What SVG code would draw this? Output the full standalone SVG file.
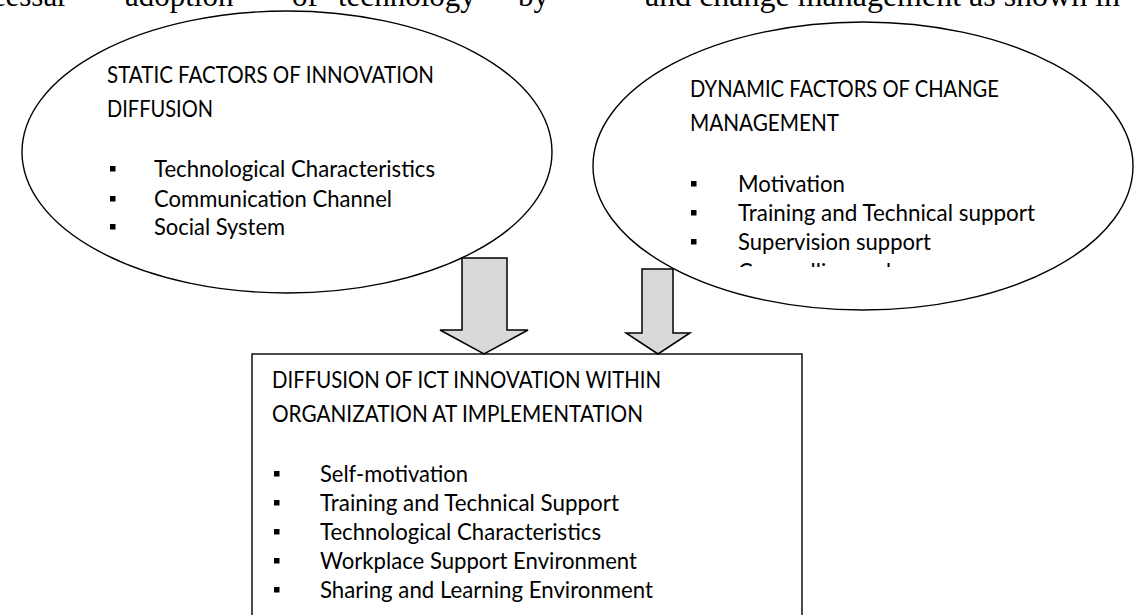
<svg xmlns="http://www.w3.org/2000/svg" width="1135" height="615" viewBox="0 0 1135 615">
  <defs>
    <style>
      .body { font-family: "Times New Roman", "Liberation Serif", serif; font-size: 31px; fill: #000; }
      .lbl { font-family: Lato, "Open Sans", sans-serif; font-size: 22.2px; fill: #000; }
      .shape { fill: #fff; stroke: #000; stroke-width: 1.4; }
      .arrow { fill: #d9d9d9; stroke: #000; stroke-width: 1.5; stroke-linejoin: miter; }
      .bullet { fill: #000; }
    </style>
    <clipPath id="dynClip">
      <rect x="600" y="0" width="535" height="267"/>
    </clipPath>
  </defs>

  <rect width="1135" height="615" fill="#fff"/>

  <!-- running text of the page, cut at the top edge -->
  <g id="page-text" class="body">
    <text x="-22" y="6">ecessar</text>
    <text x="125" y="6">adoption</text>
    <text x="292" y="6">of</text>
    <text x="338" y="6">technology</text>
    <text x="518" y="6">by</text>
    <text x="645" y="6" textLength="475" lengthAdjust="spacingAndGlyphs">and change management as shown in</text>
  </g>

  <!-- static factors -->
  <g id="static-factors">
    <ellipse class="shape" cx="287" cy="152" rx="265" ry="141"/>
    <text class="lbl" x="107" y="83" textLength="327" lengthAdjust="spacingAndGlyphs">STATIC FACTORS OF INNOVATION</text>
    <text class="lbl" x="107" y="117" textLength="106" lengthAdjust="spacingAndGlyphs">DIFFUSION</text>
    <rect class="bullet" x="110" y="166" width="5.5" height="5.5"/>
    <text class="lbl" x="154" y="177" textLength="281" lengthAdjust="spacingAndGlyphs">Technological Characteristics</text>
    <rect class="bullet" x="110" y="196" width="5.5" height="5.5"/>
    <text class="lbl" x="154" y="207" textLength="238" lengthAdjust="spacingAndGlyphs">Communication Channel</text>
    <rect class="bullet" x="110" y="224" width="5.5" height="5.5"/>
    <text class="lbl" x="154" y="235" textLength="131" lengthAdjust="spacingAndGlyphs">Social System</text>
  </g>

  <!-- dynamic factors -->
  <g id="dynamic-factors">
    <ellipse class="shape" cx="863" cy="166" rx="270" ry="144"/>
    <text class="lbl" x="690" y="97" textLength="309" lengthAdjust="spacingAndGlyphs">DYNAMIC FACTORS OF CHANGE</text>
    <text class="lbl" x="690" y="131" textLength="149" lengthAdjust="spacingAndGlyphs">MANAGEMENT</text>
    <rect class="bullet" x="691" y="181" width="5.5" height="5.5"/>
    <text class="lbl" x="738" y="192" textLength="107" lengthAdjust="spacingAndGlyphs">Motivation</text>
    <rect class="bullet" x="691" y="210" width="5.5" height="5.5"/>
    <text class="lbl" x="738" y="221" textLength="297" lengthAdjust="spacingAndGlyphs">Training and Technical support</text>
    <rect class="bullet" x="691" y="239" width="5.5" height="5.5"/>
    <text class="lbl" x="738" y="250" textLength="193" lengthAdjust="spacingAndGlyphs">Supervision support</text>
    <text class="lbl" x="738" y="280" textLength="153" lengthAdjust="spacingAndGlyphs" clip-path="url(#dynClip)">Counselling and</text>
  </g>

  <!-- diffusion within organization -->
  <g id="diffusion-box">
    <rect class="shape" x="252" y="354" width="550" height="290"/>
    <text class="lbl" x="272" y="388" textLength="389" lengthAdjust="spacingAndGlyphs">DIFFUSION OF ICT INNOVATION WITHIN</text>
    <text class="lbl" x="272" y="422" textLength="371" lengthAdjust="spacingAndGlyphs">ORGANIZATION AT IMPLEMENTATION</text>
    <rect class="bullet" x="274" y="471" width="5.5" height="5.5"/>
    <text class="lbl" x="320" y="482" textLength="148" lengthAdjust="spacingAndGlyphs">Self-motivation</text>
    <rect class="bullet" x="274" y="500" width="5.5" height="5.5"/>
    <text class="lbl" x="320" y="511" textLength="299" lengthAdjust="spacingAndGlyphs">Training and Technical Support</text>
    <rect class="bullet" x="274" y="529" width="5.5" height="5.5"/>
    <text class="lbl" x="320" y="540" textLength="281" lengthAdjust="spacingAndGlyphs">Technological Characteristics</text>
    <rect class="bullet" x="274" y="558" width="5.5" height="5.5"/>
    <text class="lbl" x="320" y="569" textLength="317" lengthAdjust="spacingAndGlyphs">Workplace Support Environment</text>
    <rect class="bullet" x="274" y="587" width="5.5" height="5.5"/>
    <text class="lbl" x="320" y="598" textLength="333" lengthAdjust="spacingAndGlyphs">Sharing and Learning Environment</text>
  </g>

  <!-- block arrows into the box -->
  <g id="connectors">
    <path class="arrow" d="M462,258 H507 V330 H528 L484,354 L440,330 H462 Z"/>
    <path class="arrow" d="M642,269 H673 V333 H690 L658,354 L626,333 H642 Z"/>
  </g>
</svg>
